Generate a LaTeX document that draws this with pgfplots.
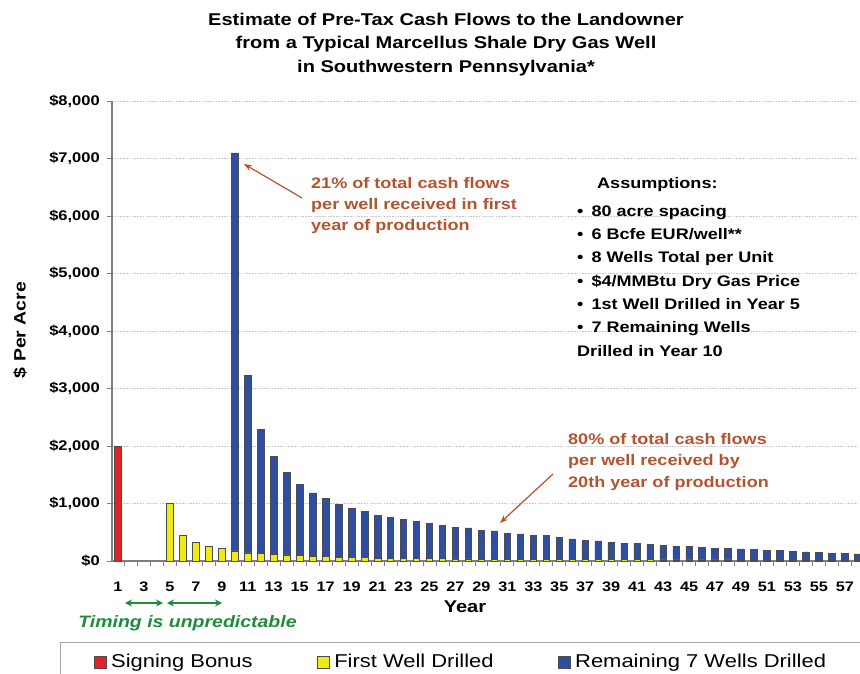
\documentclass[border=0pt]{standalone}
\usepackage{pgfplots}
\pgfplotsset{compat=1.18}
\usepackage{pgfplotstable}
\usepackage{fontspec}
\usetikzlibrary{arrows.meta}
\setmainfont{Liberation Sans}[FakeStretch=1.18]
\definecolor{barred}{HTML}{E32228}
\definecolor{baryellow}{HTML}{F0EA14}
\definecolor{barblue}{HTML}{2F4EA2}
\definecolor{annot}{HTML}{B5532F}
\definecolor{tgreen}{HTML}{1E8C3C}
\definecolor{axgray}{HTML}{7F7F7F}

\pgfplotstableread{
year bonus first rest
1 2000 0 0
2 0 0 0
3 0 0 0
4 0 0 0
5 0 1000 0
6 0 440 0
7 0 318 0
8 0 249 0
9 0 214 0
10 0 175 6921
11 0 140 3084
12 0 128 2162
13 0 115 1711
14 0 105 1432
15 0 98 1232
16 0 85 1098
17 0 82 1003
18 0 65 921
19 0 60 857
20 0 56 803
21 0 52 748
22 0 50 705
23 0 48 672
24 0 45 640
25 0 42 608
26 0 40 581
27 0 38 553
28 0 36 538
29 0 34 505
30 0 32 490
31 0 31 456
32 0 30 440
33 0 29 418
34 0 28 414
35 0 27 380
36 0 26 357
37 0 25 335
38 0 24 324
39 0 23 307
40 0 22 291
41 0 22 285
42 0 21 264
43 0 20 248
44 0 20 240
45 0 19 236
46 0 19 219
47 0 18 202
48 0 18 198
49 0 17 195
50 0 17 186
51 0 16 175
52 0 16 164
53 0 15 153
54 0 15 142
55 0 14 137
56 0 14 125
57 0 13 121
58 0 13 109
}\cashdata

\begin{document}
\begin{tikzpicture}[x=1pt,y=-1pt]
\begin{axis}[
  at={(112pt,-561pt)}, anchor=south west,
  scale only axis, width=748pt, height=460pt,
  xmin=0.54, xmax=58.17, ymin=0, ymax=8000,
  enlargelimits=false,
  ybar stacked, bar width=6.5pt,
  axis x line*=bottom, axis y line*=left,
  axis line style={draw=axgray, line width=1.1pt, -},
  tick align=outside,
  major tick length=5pt, minor tick length=5pt,
  xtick={1,3,...,57},
  minor xtick={0.5,1.5,...,58.5},
  major x tick style={draw=none},
  minor x tick style={draw=axgray, line width=0.8pt},
  ytick={0,1000,...,8000},
  yticklabels={\$0,{\$1,000},{\$2,000},{\$3,000},{\$4,000},{\$5,000},{\$6,000},{\$7,000},{\$8,000}},
  y tick style={draw=axgray, line width=1pt},
  ymajorgrids,
  major grid style={draw=gray!45, line width=0.9pt, dash pattern=on 1.6pt off 1.2pt},
  /pgf/number format/assume math mode=true,
  tick label style={font=\bfseries\fontsize{14}{14}\selectfont},
  xticklabel style={font=\bfseries\fontsize{13.8}{14}\selectfont, inner sep=0pt, anchor=north, yshift=-16pt},
  yticklabel style={inner sep=0pt, anchor=east, xshift=-7pt},
  legend columns=3,
  legend cell align=left,
  legend style={at={(-0.0695,-0.176)}, anchor=north west,
    draw=gray!70, line width=1pt, inner xsep=33pt, inner ysep=10pt,
    font=\fontsize{18.6}{20}\selectfont,
    nodes={inner xsep=2pt},
    /tikz/every odd column/.append style={column sep=3pt},
    /tikz/every even column/.append style={column sep=62pt}},
  sqleg/.style={legend image code/.code={\draw[##1, line width=0.6pt] (0pt,-6pt) rectangle (12pt,6pt);}},
]
\addplot[fill=barred, draw=black!70, line width=0.6pt, sqleg] table[x=year, y=bonus]{\cashdata};
\addlegendentry{Signing Bonus}
\addplot[fill=baryellow, draw=black!70, line width=0.6pt, sqleg] table[x=year, y=first]{\cashdata};
\addlegendentry{First Well Drilled}
\addplot[fill=barblue, draw=black!70, line width=0.6pt, sqleg] table[x=year, y=rest]{\cashdata};
\addlegendentry{Remaining 7 Wells Drilled}
\end{axis}

% title
\node[font=\bfseries\fontsize{17}{23.5}\selectfont, align=center, anchor=north, inner sep=0pt]
  at (446,12.5) {Estimate of Pre-Tax Cash Flows to the Landowner\\from a Typical Marcellus Shale Dry Gas Well\\in Southwestern Pennsylvania*};

% axis labels
\node[rotate=90, font=\bfseries\fontsize{16.5}{18}\selectfont] at (20,330) {\$ Per Acre};
\node[font=\bfseries\fontsize{17}{18}\selectfont] at (465,607) {Year};

% annotations
\node[anchor=north west, align=left, text=annot, inner sep=0pt,
  font=\bfseries\fontsize{15.3}{21}\selectfont] at (311,177)
  {21\% of total cash flows\\per well received in first\\year of production};
\draw[annot, line width=1.2pt, -{Stealth[length=8pt,width=6pt]}] (302,198) -- (244,164);

\node[anchor=north west, align=left, text=annot, inner sep=0pt,
  font=\bfseries\fontsize{15.3}{21.5}\selectfont] at (568,433)
  {80\% of total cash flows\\per well received by\\20th year of production};
\draw[annot, line width=1.2pt, -{Stealth[length=8pt,width=6pt]}] (553,474) -- (500,523);

% assumptions
\node[anchor=north west, inner sep=0pt, font=\bfseries\fontsize{15.3}{18}\selectfont] at (597,177) {Assumptions:};
\node[anchor=north west, align=left, inner sep=0pt, font=\bfseries\fontsize{15.3}{23.3}\selectfont] at (577,205)
  {•\hspace{8pt}80 acre spacing\\
   •\hspace{8pt}6 Bcfe EUR/well**\\
   •\hspace{8pt}8 Wells Total per Unit\\
   •\hspace{8pt}\$4/MMBtu Dry Gas Price\\
   •\hspace{8pt}1st Well Drilled in Year 5\\
   •\hspace{8pt}7 Remaining Wells\\
   Drilled in Year 10};

% timing
\draw[tgreen, line width=2pt, {Stealth[length=7pt,width=7pt]}-{Stealth[length=7pt,width=7pt]}] (125,603) -- (163,603);
\draw[tgreen, line width=2pt, {Stealth[length=7pt,width=7pt]}-{Stealth[length=7pt,width=7pt]}] (167,603) -- (222,603);
\node[text=tgreen, font=\bfseries\itshape\fontsize{16.5}{18}\selectfont] at (187.5,623) {Timing is unpredictable};

\pgfresetboundingbox
\path[use as bounding box] (0,0) rectangle (860,674);
\end{tikzpicture}
\end{document}
